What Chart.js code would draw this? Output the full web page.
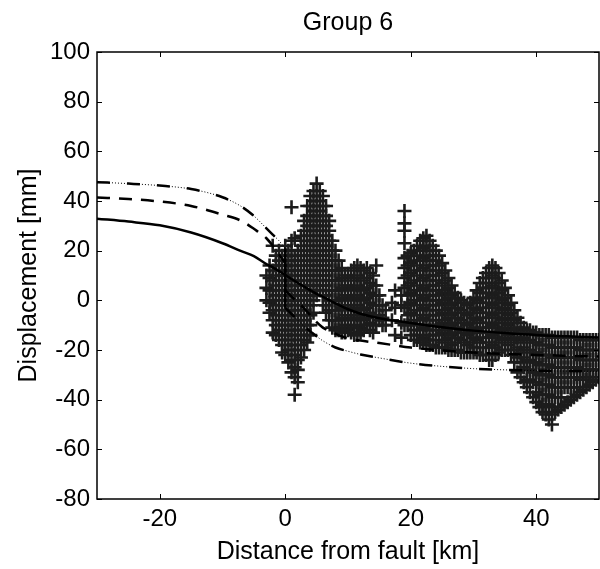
<!DOCTYPE html>
<html>
<head>
<meta charset="utf-8">
<script src="https://cdn.jsdelivr.net/npm/chart.js@4.4.1/dist/chart.umd.min.js"></script>
<style>
  html, body { margin: 0; padding: 0; background: #fff; overflow: hidden; }
  #wrap { position: absolute; left: 0; top: 0; width: 600px; height: 569px; }
  #group6 { display: block; }
</style>
</head>
<body>
<div id="wrap"><canvas id="group6"></canvas></div>
<script>
// model curves (left / right of the fault trace)
var leftX  = [-30, -25, -20, -15, -10, -7, -5, -3, -2, -1, 0];
var rightX = [0, 1, 2, 3, 4, 5, 6, 8, 10, 12, 15, 20, 25, 30, 35, 40, 45, 50];

var solidLeft    = [32.9, 31.7, 30.2, 27.3, 23, 19.8, 17.8, 14.6, 13.3, 11.8, 10.2];
var solidRight   = [10.2, 8.6, 7.0, 5.5, 4.0, 2.6, 1.4, -1.2, -3.6, -5.4, -7.2, -9.1, -10.8, -12.2, -13.2, -14, -14.5, -15];
var dashedLeft   = [41.4, 40.8, 39.8, 38, 34.5, 32, 28.8, 25, 22, 18.5, 15];
var dashedRight  = [4, 1.5, -0.8, -3.2, -6, -8.8, -11, -13.5, -15.3, -16.2, -17.2, -19, -20.2, -21, -21.6, -22, -22.3, -22.6];
var dashDotLeft  = [47.6, 47, 46.2, 44.8, 41.5, 37.8, 34, 29, 26.5, 24, 21];
var dashDotRight = [-3, -5.5, -8, -10.5, -12.5, -14.5, -16.3, -19, -20.5, -21.8, -23.2, -25.3, -26.6, -27.5, -28, -28.3, -28.5, -28.6];

// observed profile: [distance km, displacement mm, ...]
var profile = [
  [-3, 10, 5, 0],
  [-2.5, 14, 9, 4, -1, -5],
  [-2, 22, 12, 8, 4, 0, -4, -8, -13],
  [-1.5, 18, 14, 10, 6, 2, -2, -6, -10, -14],
  [-1, 20, 16, 12, 8, 4, 0, -4, -8, -12, -16],
  [-0.5, 18, 14, 10, 6, 2, -2, -6, -10, -14, -18, -21],
  [0, 22, 18, 14, 10, 6, 2, -2, -6, -10, -14, -18, -22],
  [0.5, 20, 16, 12, 8, 4, 0, -4, -8, -12, -16, -20, -25],
  [1, 37.5, 24, 20, 16, 12, 8, 4, 0, -4, -8, -12, -16, -20, -24, -29],
  [1.5, 25, 18, 14, 10, 6, 2, -2, -6, -10, -14, -18, -22, -27, -31, -38],
  [2, 20, 16, 12, 8, 4, 0, -4, -8, -12, -16, -20, -24, -28, -33],
  [2.5, 26, 22, 18, 14, 10, 6, 2, -2, -6, -10, -14, -18, -23],
  [3, 32, 28, 24, 20, 16, 12, 8, 4, 0, -4, -8, -12, -16, -20],
  [3.5, 38, 34, 30, 26, 22, 18, 14, 10, 6, 2, -2, -6, -10, -14, -17],
  [4, 42, 38, 34, 30, 26, 22, 18, 14, 10, 6, 2, -2, -6, -10, -14],
  [4.5, 44, 40, 36, 32, 28, 24, 20, 16, 12, 8, 4, 0, -5],
  [5, 47, 42, 38, 34, 30, 26, 22, 18, 14, 10, 6, 2],
  [5.5, 44, 40, 36, 32, 28, 24, 20, 16, 12, 8, 4],
  [6, 42, 38, 34, 30, 26, 22, 18, 14, 10, 6, 2, -2],
  [6.5, 38, 34, 30, 26, 22, 18, 14, 10, 6, 2, -2, -5],
  [7, 32, 28, 24, 20, 16, 12, 8, 4, 0, -4, -8],
  [7.5, 24, 20, 16, 12, 8, 4, 0, -4, -8, -11],
  [8, 20, 16, 12, 8, 4, 0, -4, -8, -12],
  [8.5, 16, 12, 8, 4, 0, -4, -8, -12],
  [9, 13, 9, 5, 1, -3, -7, -11, -13],
  [9.5, 10, 6, 2, -2, -6, -10, -13],
  [10, 10, 6, 2, -2, -6, -10, -12],
  [10.5, 12, 8, 4, 0, -4, -8, -13],
  [11, 13, 9, 5, 1, -3, -7, -11, -14],
  [11.5, 14, 10, 6, 2, -2, -6, -10, -14],
  [12, 13, 9, 5, 1, -3, -7, -11, -13],
  [12.5, 12, 8, 4, 0, -4, -8, -12],
  [13, 13, 9, 5, 1, -3, -7, -10],
  [13.5, 11, 7, 3, -1, -5, -9, -12],
  [14, 10, 6, 2, -2, -6, -10, -13],
  [14.5, 14, 6, 2, -2, -6, -10],
  [15, 2, -2, -6, -8],
  [15.5, -2, -7, -10],
  [16, -4, -10],
  [17, -1, -8],
  [17.5, 4, -3, -14],
  [18.5, 2, -2, -9, -15],
  [19, 36, 31, 28, 23, 17, 13, 9, 5, -3, -10],
  [19.5, 18, 14, 10, 6, 2, -2, -6, -10],
  [20, 19, 15, 11, 7, 3, -1, -5, -9, -14],
  [20.5, 20, 16, 12, 8, 4, 0, -4, -8, -12, -16],
  [21, 22, 18, 14, 10, 6, 2, -2, -6, -10, -14, -16],
  [21.5, 24, 20, 16, 12, 8, 4, 0, -4, -8, -12, -17],
  [22, 25, 21, 17, 13, 9, 5, 1, -3, -7, -11, -15, -17],
  [22.5, 26, 22, 18, 14, 10, 6, 2, -2, -6, -10, -14, -18],
  [23, 24, 20, 16, 12, 8, 4, 0, -4, -8, -12, -16, -18],
  [23.5, 22, 18, 14, 10, 6, 2, -2, -6, -10, -14, -18],
  [24, 20, 16, 12, 8, 4, 0, -4, -8, -12, -16, -19],
  [24.5, 18, 14, 10, 6, 2, -2, -6, -10, -14, -19],
  [25, 15, 11, 7, 3, -1, -5, -9, -13, -17, -19],
  [25.5, 12, 8, 4, 0, -4, -8, -12, -16, -19],
  [26, 9, 5, 1, -3, -7, -11, -15, -20],
  [26.5, 6, 2, -2, -6, -10, -14, -18, -20],
  [27, 3, -1, -5, -9, -13, -17, -20],
  [27.5, 1, -3, -7, -11, -15, -20],
  [28, 0, -4, -8, -12, -16, -21],
  [28.5, -1, -5, -9, -13, -17, -21],
  [29, -2, -6, -10, -14, -18, -21],
  [29.5, -1, -5, -9, -13, -17, -21],
  [30, 1, -3, -7, -11, -15, -19, -21],
  [30.5, 4, 0, -4, -8, -12, -16, -21],
  [31, 7, 3, -1, -5, -9, -13, -17, -22],
  [31.5, 9, 5, 1, -3, -7, -11, -15, -19, -22],
  [32, 11, 7, 3, -1, -5, -9, -13, -17, -22],
  [32.5, 13, 9, 5, 1, -3, -7, -11, -15, -19, -24],
  [33, 14, 10, 6, 2, -2, -6, -10, -14, -18, -24],
  [33.5, 13, 9, 5, 1, -3, -7, -11, -15, -19, -22],
  [34, 11, 7, 3, -1, -5, -9, -13, -17, -21],
  [34.5, 8, 4, 0, -4, -8, -12, -16, -20],
  [35, 5, 1, -3, -7, -11, -15, -20],
  [35.5, 2, -2, -6, -10, -14, -18, -20],
  [36, -1, -5, -9, -13, -17, -22],
  [36.5, -4, -8, -12, -16, -20, -25],
  [37, -7, -11, -15, -19, -23, -29],
  [37.5, -9, -13, -17, -21, -25, -31],
  [38, -11, -15, -19, -23, -27, -33],
  [38.5, -12, -16, -20, -24, -28, -32, -35],
  [39, -12, -16, -20, -24, -28, -32, -37],
  [39.5, -13, -17, -21, -25, -29, -33, -39],
  [40, -13, -17, -21, -25, -29, -33, -37, -41],
  [40.5, -14, -18, -22, -26, -30, -34, -38, -43],
  [41, -14, -18, -22, -26, -30, -34, -38, -42, -45],
  [41.5, -14, -18, -22, -26, -30, -34, -38, -42, -46],
  [42, -14, -18, -22, -26, -30, -34, -38, -42, -48],
  [42.5, -15, -19, -23, -27, -31, -35, -39, -43, -46, -50],
  [43, -15, -19, -23, -27, -31, -35, -39, -45],
  [43.5, -15, -19, -23, -27, -31, -35, -39, -44],
  [44, -15, -19, -23, -27, -31, -35, -39, -43],
  [44.5, -15, -19, -23, -27, -31, -35, -42],
  [45, -15, -19, -23, -27, -31, -35, -41],
  [45.5, -15, -19, -23, -27, -31, -35, -40],
  [46, -15, -19, -23, -27, -31, -35, -39],
  [46.5, -15, -19, -23, -27, -31, -35, -38],
  [47, -16, -20, -24, -28, -32, -37],
  [47.5, -16, -20, -24, -28, -32, -36],
  [48, -16, -20, -24, -28, -32, -35],
  [48.5, -16, -20, -24, -28, -31, -34],
  [49, -16, -20, -24, -28, -33],
  [49.5, -16, -20, -24, -28, -32],
  [50, -16, -20, -24, -28, -31]
];

var xTickValues = [-20, 0, 20, 40];
var yTickValues = [-80, -60, -40, -20, 0, 20, 40, 60, 80, 100];

var FONT = "'Liberation Sans', Arial, Helvetica, sans-serif";

function pairs(xs, ys) {
  return xs.map(function (x, i) { return { x: x, y: ys[i] }; });
}

var profilePoints = [];
profile.forEach(function (row) {
  for (var i = 1; i < row.length; i++) profilePoints.push({ x: row[0], y: row[i] });
});

// solid curve is continuous across the fault, the other two jump at x = 0
var solidData = pairs(leftX, solidLeft).concat(pairs(rightX.slice(1), solidRight.slice(1)));
var dashedJump  = [{ x: 0, y: dashedLeft[dashedLeft.length - 1] }, { x: 0, y: dashedRight[0] }];
var dashDotJump = [{ x: 0, y: dashDotLeft[dashDotLeft.length - 1] }, { x: 0, y: dashDotRight[0] }];

function curve(label, data, width, dash) {
  return {
    type: 'line', label: label, data: data,
    borderColor: '#000', borderWidth: width, borderDash: dash || [],
    pointRadius: 0, fill: false, cubicInterpolationMode: 'monotone'
  };
}

// frame, inward ticks on all four sides, title over the plot box
var matlabBox = {
  id: 'matlabBox',
  afterDraw: function (chart) {
    var ctx = chart.ctx, a = chart.chartArea;
    var xs = chart.scales.x, ys = chart.scales.y;
    ctx.save();
    ctx.strokeStyle = '#000';
    ctx.lineWidth = 1;
    ctx.beginPath();
    xTickValues.forEach(function (v) {
      var px = Math.round(xs.getPixelForValue(v)) + 0.5;
      ctx.moveTo(px, a.bottom); ctx.lineTo(px, a.bottom - 5);
      ctx.moveTo(px, a.top);    ctx.lineTo(px, a.top + 5);
    });
    yTickValues.forEach(function (v) {
      var py = Math.round(ys.getPixelForValue(v)) + 0.5;
      ctx.moveTo(a.left, py);  ctx.lineTo(a.left + 5, py);
      ctx.moveTo(a.right, py); ctx.lineTo(a.right - 5, py);
    });
    ctx.stroke();
    ctx.lineWidth = 1.5;
    ctx.strokeRect(a.left, a.top, a.right - a.left, a.bottom - a.top);
    ctx.fillStyle = '#000';
    ctx.font = '25px ' + FONT;
    ctx.textAlign = 'center';
    ctx.textBaseline = 'middle';
    ctx.fillText('Group 6', (a.left + a.right) / 2, 23);
    ctx.restore();
  }
};

var ctx = document.getElementById('group6').getContext('2d');
var chart = new Chart(ctx, {
  type: 'scatter',
  data: {
    datasets: [
      curve('model 1', solidData, 2.5),
      curve('model 2 west', pairs(leftX, dashedLeft), 2.5, [13, 9]),
      curve('model 2 east', pairs(rightX, dashedRight), 2.5, [13, 9]),
      curve('model 2 jump', dashedJump, 2.5),
      curve('model 3 west', pairs(leftX, dashDotLeft), 2.5, [13, 17]),
      curve('model 3 west dots', pairs(leftX, dashDotLeft), 1, [1, 2]),
      curve('model 3 east', pairs(rightX, dashDotRight), 2.5, [13, 17]),
      curve('model 3 east dots', pairs(rightX, dashDotRight), 1, [1, 2]),
      curve('model 3 jump', dashDotJump, 2.5),
      {
        label: 'observed', data: profilePoints,
        pointStyle: 'cross', pointRadius: 7, pointBorderWidth: 2.6,
        borderColor: '#1c1c1c', backgroundColor: '#1c1c1c', clip: 0
      }
    ]
  },
  options: {
    responsive: true,
    maintainAspectRatio: false,
    animation: false,
    events: [],
    layout: { autoPadding: false, padding: { top: 52, right: 1, left: 0, bottom: 0 } },
    plugins: {
      legend: { display: false },
      tooltip: { enabled: false },
      title: { display: false }
    },
    scales: {
      x: {
        type: 'linear', min: -30, max: 50,
        afterBuildTicks: function (scale) {
          scale.ticks = xTickValues.map(function (v) { return { value: v }; });
        },
        afterFit: function (scale) {
          scale.height = 70;
          scale.paddingLeft = 0;
          scale.paddingRight = 0;
        },
        grid: { display: false, drawTicks: false },
        border: { display: false },
        ticks: { color: '#000', padding: 6, maxRotation: 0, font: { family: FONT, size: 24 } },
        title: {
          display: true, text: 'Distance from fault [km]', color: '#000',
          padding: { top: 0, bottom: 2 }, font: { family: FONT, size: 25 }
        }
      },
      y: {
        type: 'linear', min: -80, max: 100,
        afterBuildTicks: function (scale) {
          scale.ticks = yTickValues.map(function (v) { return { value: v }; });
        },
        afterFit: function (scale) {
          scale.width = 97;
          scale.paddingTop = 0;
          scale.paddingBottom = 0;
        },
        grid: { display: false, drawTicks: false },
        border: { display: false },
        ticks: { color: '#000', padding: 7, font: { family: FONT, size: 24 } },
        title: {
          display: true, text: 'Displacement [mm]', color: '#000',
          padding: { top: 14, bottom: 0 }, font: { family: FONT, size: 25 }
        }
      }
    }
  },
  plugins: [matlabBox]
});
</script>
</body>
</html>
